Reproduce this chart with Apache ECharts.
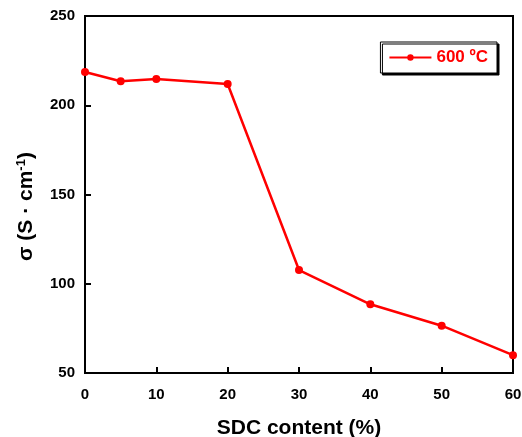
<!DOCTYPE html>
<html><head><meta charset="utf-8">
<script src="https://cdn.jsdelivr.net/npm/echarts@6/dist/echarts.min.js"></script>
<style>html,body{margin:0;padding:0;background:#fff}#c{width:522px;height:437px}</style>
</head><body><div id="c"></div>
<script>
const sdcContent = [0, 5, 10, 20, 30, 40, 50, 60];
const conductivity = [218.6, 213.4, 214.7, 211.9, 107.7, 88.5, 76.5, 60.0];
const seriesName = '600 ºC';
const xTicks = [0, 10, 20, 30, 40, 50, 60];
const yTicks = [50, 100, 150, 200, 250];

const chart = echarts.init(document.getElementById('c'));
const font = 'Liberation Sans, Arial, sans-serif';
chart.setOption({
  animation: false,
  backgroundColor: '#fff',
  grid: {left: 85, right: 9, top: 16, bottom: 64, show: true, borderColor: '#000', borderWidth: 2,
         containLabel: false, outerBoundsMode: 'none'},
  legend: {
    data: [seriesName], right: 25, top: 42,
    itemWidth: 42, itemHeight: 8, itemGap: 4,
    padding: [7, 9, 7, 8],
    backgroundColor: '#fff', borderColor: '#000', borderWidth: 1,
    shadowColor: '#000', shadowBlur: 0, shadowOffsetX: 2, shadowOffsetY: 2,
    textStyle: {color: '#ff0000', fontWeight: 'bold', fontSize: 17, fontFamily: font}
  },
  xAxis: {
    type: 'value', min: 0, max: 60, interval: 10,
    name: 'SDC content (%)', nameLocation: 'middle', nameGap: 45,
    nameTextStyle: {fontSize: 21, fontWeight: 'bold', color: '#000', fontFamily: font},
    axisLine: {lineStyle: {color: '#000', width: 2}},
    axisTick: {inside: true, length: 6, lineStyle: {color: '#000', width: 2}},
    axisLabel: {fontSize: 15, fontWeight: 'bold', color: '#000', fontFamily: font, margin: 14},
    splitLine: {show: false}
  },
  yAxis: {
    type: 'value', min: 50, max: 250, interval: 50,
    name: '{a|σ (S · cm}{s|-1}{a|)}', nameLocation: 'middle', nameGap: 47, nameRotate: 90,
    nameTextStyle: {
      color: '#000', fontFamily: font, padding: [0, 24, 0, 0],
      rich: {
        a: {fontSize: 21, fontWeight: 'bold', color: '#000', fontFamily: font},
        s: {fontSize: 13, fontWeight: 'bold', color: '#000', fontFamily: font, verticalAlign: 'top', padding: [0, 0, 10, 0]}
      }
    },
    axisLine: {lineStyle: {color: '#000', width: 2}},
    axisTick: {inside: true, length: 6, lineStyle: {color: '#000', width: 2}},
    axisLabel: {fontSize: 15, fontWeight: 'bold', color: '#000', fontFamily: font, margin: 10},
    splitLine: {show: false}
  },
  series: [{
    name: seriesName, type: 'line',
    data: sdcContent.map((x, i) => [x, conductivity[i]]),
    symbol: 'circle', symbolSize: 8,
    lineStyle: {color: '#ff0000', width: 2.5},
    itemStyle: {color: '#ff0000'},
    clip: false
  }]
});
</script></body></html>
